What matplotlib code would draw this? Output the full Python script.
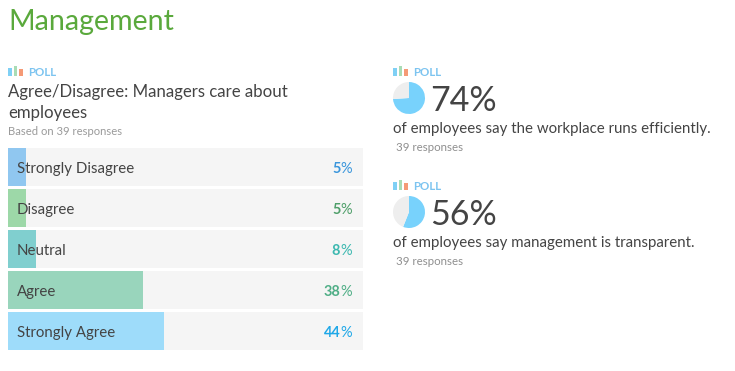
import matplotlib
matplotlib.use("Agg")
import matplotlib.pyplot as plt

plt.rcParams['font.family'] = ['Lato', 'DejaVu Sans']

W, H = 735, 371
categories = ["Strongly Disagree", "Disagree", "Neutral", "Agree", "Strongly Agree"]
values = [5, 5, 8, 38, 44]
bar_colors = ["#90c7f0", "#9dd8a8", "#80cfcf", "#99d5bc", "#9edcfa"]
label_colors = ["#3a96dc", "#4f9f6a", "#3cb8b0", "#4fae86", "#1fa8e8"]
poll_values = [74, 56]
poll_texts = ["of employees say the workplace runs efficiently.",
              "of employees say management is transparent."]
icon_values = [8, 10, 7]
icon_colors = ["#7fd0f5", "#a9dcb5", "#f59a76"]
TXT = "#444444"

fig = plt.figure(figsize=(W / 100, H / 100), dpi=100, facecolor="white")


def px_axes(x0, y0, x1, y1, **kw):
    return fig.add_axes([x0 / W, 1 - y1 / H, (x1 - x0) / W, (y1 - y0) / H], **kw)


bg = px_axes(0, 0, W, H, zorder=10)
bg.set_xlim(0, W)
bg.set_ylim(H, 0)
bg.axis("off")
bg.patch.set_alpha(0)


def t(x, y, s, size_px, color=TXT, **kw):
    kw.setdefault("va", "baseline")
    return bg.text(x, y, s, fontsize=size_px * 0.72, color=color, **kw)


def icon(x, ybase):
    ax = px_axes(x, ybase - 10, x + 15, ybase)
    ax.bar(range(3), icon_values, width=0.72, color=icon_colors)
    ax.set_xlim(-0.36, 2.36)
    ax.set_ylim(0, 10)
    ax.axis("off")


t(8, 30, "Management", 28.6, color="#5aa93c")

# Left poll
icon(8, 76)
t(28, 76, "POLL", 11.5, color="#7cc4f0", fontweight="bold")
t(8, 97, "Agree/Disagree: Managers care about", 16.7)
t(8, 118, "employees", 16.7)
t(8, 135, "Based on 39 responses", 11.3, color="#9a9a9a")

ax = px_axes(8, 148, 363, 350)
y = list(range(len(categories)))
ax.barh(y, [100] * 5, height=38 / 41, color="#f5f5f5")
ax.barh(y, values, height=38 / 41, color=bar_colors)
ax.set_xlim(0, 100)
ax.set_ylim(4 + 19 / 41, -19 / 41)
ax.axis("off")
for i, (c, v, lc) in enumerate(zip(categories, values, label_colors)):
    yy = 173 + 41 * i
    t(17, yy, c, 15)
    pct = t(352, yy, "%", 14.5, color=lc, ha="right")
    bg.annotate(str(v), xy=(0, 0), xycoords=pct, xytext=(0, 0),
                textcoords="offset points", ha="right", va="bottom",
                fontsize=14.5 * 0.72, fontweight="bold", color=lc)

# Right polls
for v, s, top in zip(poll_values, poll_texts, [0, 114]):
    icon(393, 76 + top)
    t(413, 76 + top, "POLL", 11.5, color="#7cc4f0", fontweight="bold")
    pie_ax = px_axes(393, 82 + top, 425, 114 + top)
    pie_ax.pie([v, 100 - v], colors=["#78d2fc", "#eeeeee"], startangle=90,
               counterclock=False, radius=1.0)
    pie_ax.set_xlim(-1, 1)
    pie_ax.set_ylim(-1, 1)
    t(430, 111 + top, f"{v}%", 34)
    t(393, 133 + top, s, 15.0)
    t(396, 151 + top, "39 responses", 11.5, color="#8f8f8f")

fig.savefig("out.png", dpi=100, facecolor="white")
